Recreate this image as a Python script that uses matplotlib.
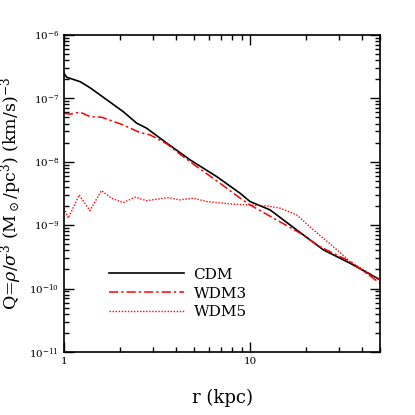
import matplotlib
matplotlib.use("Agg")
import matplotlib.pyplot as plt
from matplotlib.ticker import LogLocator, NullFormatter, FixedLocator, FixedFormatter, LogFormatterSciNotation

plt.rcParams['font.family'] = ['DejaVu Serif']
plt.rcParams['mathtext.fontset'] = 'dejavuserif'

r_cdm = [1.0, 1.034, 1.22, 1.38, 1.59, 2.08, 2.46, 2.78, 3.57, 4.76, 6.62, 8.84, 10.0, 12.8, 17.8, 24.8, 34.5, 50.0]
q_cdm = [2.49e-7, 2.15e-7, 1.83e-7, 1.47e-7, 1.09e-7, 6.17e-8, 4.05e-8, 3.38e-8, 1.96e-8, 1.07e-8, 5.82e-9, 3.18e-9, 2.35e-9, 1.74e-9, 8.4e-10, 4.06e-10, 2.5e-10, 1.37e-10]

r_wdm3 = [1.0, 1.077, 1.22, 1.38, 1.59, 2.08, 2.56, 2.90, 3.57, 4.03, 5.17, 6.89, 8.84, 10.0, 18.6, 23.7, 34.5, 50.0]
q_wdm3 = [5.82e-8, 5.61e-8, 6.04e-8, 5.14e-8, 5.04e-8, 3.8e-8, 2.88e-8, 2.65e-8, 1.91e-8, 1.44e-8, 8.37e-9, 4.58e-9, 2.66e-9, 2.08e-9, 7.45e-10, 4.58e-10, 2.66e-10, 1.21e-10]

r_wdm5 = [1.0, 1.055, 1.208, 1.38, 1.59, 1.80, 2.08, 2.41, 2.78, 3.64, 4.20, 4.95, 5.85, 7.8, 9.6, 12.3, 14.5, 17.8, 21.9, 28.0, 34.5, 50.0]
q_wdm5 = [1.85e-9, 1.29e-9, 2.99e-9, 1.69e-9, 3.5e-9, 2.66e-9, 2.26e-9, 2.75e-9, 2.43e-9, 2.71e-9, 2.5e-9, 2.66e-9, 2.35e-9, 2.16e-9, 2.08e-9, 2.01e-9, 1.85e-9, 1.45e-9, 8.4e-10, 4.58e-10, 2.66e-10, 1.37e-10]

labels = ['CDM', 'WDM3', 'WDM5']
xticks = [1, 10]
xticklabels = ['1', '10']
yticks = [1e-11, 1e-10, 1e-9, 1e-8, 1e-7, 1e-6]

fig = plt.figure(figsize=(4.15, 4.15), dpi=100)
ax = fig.add_axes([0.154, 0.152, 0.762, 0.764])

ax.plot(r_cdm, q_cdm, color='black', lw=1.2, label=labels[0])
ax.plot(r_wdm3, q_wdm3, color='red', lw=1.1, ls=(0, (6, 2, 1.5, 2)), label=labels[1])
ax.plot(r_wdm5, q_wdm5, color='red', lw=1.0, ls=(0, (1, 1.2)), label=labels[2])

ax.set_xscale('log')
ax.set_yscale('log')
ax.set_xlim(1, 50)
ax.set_ylim(1e-11, 1e-6)

ax.xaxis.set_major_locator(FixedLocator(xticks))
ax.xaxis.set_major_formatter(FixedFormatter(xticklabels))
ax.xaxis.set_minor_locator(LogLocator(base=10, subs=range(2, 10)))
ax.xaxis.set_minor_formatter(NullFormatter())
ax.yaxis.set_major_locator(FixedLocator(yticks))
ax.yaxis.set_major_formatter(LogFormatterSciNotation())
ax.yaxis.set_minor_locator(LogLocator(base=10, subs=range(2, 10), numticks=20))
ax.yaxis.set_minor_formatter(NullFormatter())

ax.tick_params(which='both', direction='in', top=True, right=True, labelsize=7.5, width=1.0)
ax.tick_params(which='major', length=7)
ax.tick_params(which='minor', length=3.5)
for s in ax.spines.values():
    s.set_linewidth(1.2)

ax.set_xlabel('r (kpc)', fontsize=13)
ax.xaxis.set_label_coords(0.5, -0.115)
ax.set_ylabel(r'Q=$\rho/\sigma^3$ (M$_\odot$/pc$^3$) (km/s)$^{-3}$', fontsize=12.5)
ax.yaxis.set_label_coords(-0.125, 0.5)

ax.legend(loc='upper left', bbox_to_anchor=(0.12, 0.29), frameon=False, fontsize=11,
          handlelength=4.85, handletextpad=0.65, labelspacing=0.32, borderpad=0)

fig.savefig('out.png', dpi=100)
